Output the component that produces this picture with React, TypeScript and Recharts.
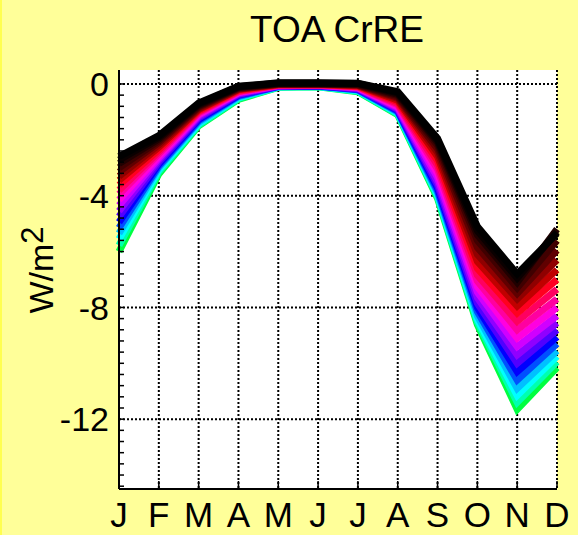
import React from "react";
import { CartesianGrid, Line, LineChart, XAxis, YAxis } from "recharts";

const months = ["J", "F", "M", "A", "M", "J", "J", "A", "S", "O", "N", "D"];

// one row per model run, top (black) to bottom (green), J..D
const crre: number[][] = [
  [-2.6, -1.85, -0.68, -0.08, 0.04, 0.04, 0.03, -0.28, -1.95, -5.1, -6.8, -5.35],
  [-2.72, -1.9, -0.72, -0.1, 0.03, 0.03, 0.02, -0.32, -2.02, -5.25, -6.95, -5.3],
  [-2.85, -1.97, -0.76, -0.12, 0.02, 0.02, 0.0, -0.37, -2.1, -5.4, -7.1, -5.2],
  [-3.0, -2.03, -0.8, -0.14, 0.01, 0.01, -0.02, -0.42, -2.2, -5.6, -7.3, -5.6],
  [-3.15, -2.1, -0.84, -0.16, 0.0, 0.0, -0.03, -0.47, -2.32, -5.85, -7.5, -5.95],
  [-3.3, -2.18, -0.88, -0.18, -0.01, 0.0, -0.05, -0.52, -2.45, -6.1, -7.7, -6.3],
  [-3.45, -2.26, -0.92, -0.2, -0.02, -0.01, -0.06, -0.58, -2.6, -6.35, -7.95, -6.65],
  [-3.62, -2.35, -0.96, -0.23, -0.03, -0.02, -0.08, -0.64, -2.75, -6.6, -8.2, -7.0],
  [-3.8, -2.43, -1.0, -0.26, -0.04, -0.03, -0.1, -0.7, -2.9, -6.85, -8.5, -7.35],
  [-3.95, -2.5, -1.04, -0.28, -0.05, -0.03, -0.11, -0.75, -3.05, -7.05, -8.8, -7.7],
  [-4.15, -2.58, -1.08, -0.3, -0.05, -0.04, -0.13, -0.8, -3.2, -7.25, -9.1, -8.0],
  [-4.35, -2.65, -1.12, -0.32, -0.06, -0.05, -0.14, -0.84, -3.35, -7.45, -9.4, -8.3],
  [-4.55, -2.72, -1.17, -0.35, -0.07, -0.05, -0.16, -0.88, -3.5, -7.65, -9.7, -8.55],
  [-4.75, -2.8, -1.22, -0.38, -0.08, -0.06, -0.18, -0.92, -3.62, -7.85, -10.0, -8.8],
  [-4.95, -2.87, -1.27, -0.4, -0.08, -0.07, -0.19, -0.95, -3.73, -8.0, -10.3, -9.05],
  [-5.15, -2.94, -1.32, -0.43, -0.09, -0.07, -0.21, -0.98, -3.83, -8.15, -10.6, -9.3],
  [-5.35, -3.0, -1.37, -0.46, -0.1, -0.08, -0.22, -1.01, -3.9, -8.3, -10.9, -9.55],
  [-5.55, -3.07, -1.42, -0.49, -0.1, -0.09, -0.24, -1.04, -3.97, -8.42, -11.15, -9.75],
  [-5.78, -3.14, -1.46, -0.52, -0.11, -0.09, -0.26, -1.07, -4.03, -8.52, -11.4, -9.95],
  [-6.0, -3.22, -1.5, -0.55, -0.12, -0.1, -0.28, -1.1, -4.1, -8.62, -11.65, -10.15],
];

const colors = [
  "#000000", "#0a0000", "#200000", "#400000", "#600000",
  "#900000", "#c00000", "#ff0020", "#ff0060", "#ff00a0",
  "#ff00e0", "#d000ff", "#9000ff", "#5000ff", "#0000ff",
  "#0050ff", "#00c0ff", "#00ffff", "#00ffb0", "#00ff40",
];

const majorTicks = [0, -4, -8, -12];
const minorTicks = Array.from({ length: 37 }, (_, i) => Math.round((-14.4 + i * 0.4) * 10) / 10);

const data = months.map((m, i) => {
  const row: Record<string, string | number> = { idx: i, m };
  crre.forEach((s, k) => (row["s" + k] = s[i]));
  return row;
});

const FONT = "'Liberation Sans', Arial, Helvetica, sans-serif";

function BottomTick(props: any) {
  const { x, y, payload } = props;
  return (
    <g>
      <line x1={x} x2={x} y1={y - 14} y2={y - 21} stroke="#000" strokeWidth={1.5} />
      <text x={x} y={y} dy="0.71em" textAnchor="middle" fontSize={35} fontFamily={FONT} fill="#000">
        {months[payload.value]}
      </text>
    </g>
  );
}

function TopTick(props: any) {
  const { x, y } = props;
  return <line x1={x} x2={x} y1={y} y2={y + 7} stroke="#000" strokeWidth={1.5} />;
}

function LeftTick(props: any) {
  const { x, y, payload } = props;
  const v = payload.value;
  return (
    <g>
      <line x1={x + 10} x2={x + 15} y1={y} y2={y} stroke="#000" strokeWidth={1.5} />
      {majorTicks.includes(v) && (
        <text x={x} y={y} dy="0.355em" textAnchor="end" fontSize={34} fontFamily={FONT} fill="#000">
          {v}
        </text>
      )}
    </g>
  );
}

export default function App() {
  return (
    <div
      style={{
        position: "absolute",
        left: 0,
        top: 0,
        width: 578,
        height: 535,
        background: "#ffff99",
        boxSizing: "border-box",
        borderLeft: "2px solid #ffff50",
      }}
    >
      <div style={{ position: "absolute", left: -2, top: 0 }}>
        <LineChart width={578} height={535} data={data} margin={{ top: 70, right: 21, bottom: 0, left: 0 }}>
          <CartesianGrid
            fill="#ffffff"
            fillOpacity={1}
            stroke="#000"
            strokeWidth={2}
            strokeDasharray="2 2"
            horizontalValues={majorTicks}
          />
          <XAxis
            dataKey="idx"
            type="number"
            domain={[0, 11]}
            ticks={months.map((_, i) => i)}
            interval={0}
            height={46}
            tickSize={0}
            tickMargin={13}
            tickLine={false}
            axisLine={{ stroke: "#000", strokeWidth: 2 }}
            tick={<BottomTick />}
          />
          <XAxis
            xAxisId="top"
            orientation="top"
            dataKey="idx"
            type="number"
            domain={[0, 11]}
            ticks={months.map((_, i) => i)}
            interval={0}
            height={0}
            tickSize={0}
            tickMargin={0}
            tickLine={false}
            axisLine={false}
            tick={<TopTick />}
          />
          <YAxis
            type="number"
            domain={[-14.5, 0.5]}
            allowDataOverflow
            ticks={minorTicks}
            interval={0}
            width={119}
            tickSize={0}
            tickMargin={10}
            tickLine={false}
            axisLine={{ stroke: "#000", strokeWidth: 2 }}
            tick={<LeftTick />}
          />
          {crre
            .map((_, k) => k)
            .reverse()
            .map((k) => (
              <Line
                key={k}
                dataKey={"s" + k}
                stroke={colors[k]}
                strokeWidth={7}
                dot={false}
                activeDot={false}
                type="linear"
                isAnimationActive={false}
              />
            ))}
        </LineChart>
      </div>
      <svg
        width={578}
        height={535}
        style={{ position: "absolute", left: -2, top: 0, pointerEvents: "none" }}
      >
        <text x={337} y={42} textAnchor="middle" fontSize={37} fontFamily={FONT} fill="#000">
          TOA CrRE
        </text>
        <text
          transform="translate(53,270) rotate(-90)"
          textAnchor="middle"
          fontSize={34}
          fontFamily={FONT}
          fill="#000"
        >
          W/m
          <tspan dy={-10} fontSize={31}>
            2
          </tspan>
        </text>
      </svg>
    </div>
  );
}
